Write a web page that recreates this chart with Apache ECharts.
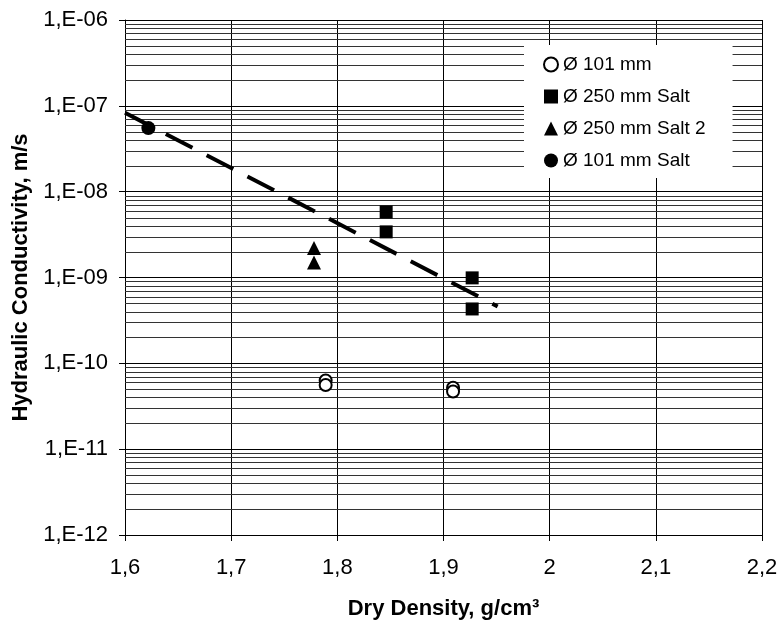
<!DOCTYPE html>
<html>
<head>
<meta charset="utf-8">
<script src="https://cdn.jsdelivr.net/npm/echarts@6/dist/echarts.min.js"></script>
<style>
html,body{margin:0;padding:0;background:#fff;}
#chart{width:781px;height:625px;}
</style>
</head>
<body>
<div id="chart"></div>
<script>
// ---- data ----
const seriesNames = ['Ø 101 mm', 'Ø 250 mm Salt', 'Ø 250 mm Salt 2', 'Ø 101 mm Salt'];
const x101 = [1.789, 1.789, 1.909, 1.909];
const y101 = [6.3e-11, 5.6e-11, 5.2e-11, 4.7e-11];
const x250Salt = [1.846, 1.846, 1.927, 1.927];
const y250Salt = [5.8e-9, 3.4e-9, 9.9e-10, 4.3e-10];
const x250Salt2 = [1.778, 1.778];
const y250Salt2 = [2.2e-9, 1.5e-9];
const x101Salt = [1.622];
const y101Salt = [5.5e-8];
const trendX = [1.6, 1.951];
const trendY = [8.3e-8, 4.6e-10];
const xTicks = [1.6, 1.7, 1.8, 1.9, 2.0, 2.1, 2.2];
const yDecades = [-12, -11, -10, -9, -8, -7, -6];

const pairs = (xs, ys) => xs.map((x, i) => [x, ys[i]]);
const FONT = '"Liberation Sans", Arial, sans-serif';

// minor (2..9) log grid values
const minorVals = [];
for (let k = 0; k < yDecades.length - 1; k++) {
  for (let m = 2; m <= 9; m++) minorVals.push(m * Math.pow(10, yDecades[k]));
}

const chart = echarts.init(document.getElementById('chart'));
chart.setOption({
  animation: false,
  backgroundColor: '#fff',
  grid: { left: 125, top: 20, right: 19, bottom: 89 },
  legend: {
    data: seriesNames,
    orient: 'vertical',
    left: 524, top: 45,
    backgroundColor: '#fff',
    padding: [10, 27, 8, 19],
    itemGap: 13,
    itemWidth: 14, itemHeight: 14,
    textStyle: { fontFamily: FONT, fontSize: 19, color: '#000' }
  },
  xAxis: {
    type: 'value', min: 1.6, max: 2.2, interval: 0.1,
    name: 'Dry Density, g/cm³', nameLocation: 'middle', nameGap: 63,
    nameTextStyle: { fontFamily: FONT, fontSize: 22, fontWeight: 'bold', color: '#000' },
    axisLine: { lineStyle: { color: '#000', width: 1 } },
    axisTick: { show: true, length: 6, lineStyle: { color: '#000' } },
    axisLabel: {
      fontFamily: FONT, fontSize: 22, color: '#000', margin: 22,
      formatter: v => String(Math.round(v * 10) / 10).replace('.', ',')
    },
    splitLine: { show: true, lineStyle: { color: '#000', width: 1 } }
  },
  yAxis: {
    type: 'log', logBase: 10, min: 1e-12, max: 1e-6,
    name: 'Hydraulic Conductivity, m/s', nameLocation: 'middle', nameGap: 93,
    nameTextStyle: { fontFamily: FONT, fontSize: 22, fontWeight: 'bold', color: '#000' },
    axisLine: { show: true, lineStyle: { color: '#000', width: 1 } },
    axisTick: { show: true, length: 6, lineStyle: { color: '#000' } },
    axisLabel: {
      fontFamily: FONT, fontSize: 22, color: '#000', margin: 17,
      formatter: v => {
        const e = Math.round(Math.log10(v));
        const a = Math.abs(e);
        return '1,E' + (e < 0 ? '-' : '+') + (a < 10 ? '0' + a : a);
      }
    },
    splitLine: { show: true, lineStyle: { color: '#000', width: 1 } },
    minorTick: { show: false },
    minorSplitLine: { show: false }
  },
  series: [
    {
      name: 'minorGrid', type: 'custom', silent: true, z: 1,
      data: minorVals.map(v => [xTicks[0], v]),
      encode: { x: 0, y: 1 },
      clip: false,
      renderItem: (params, api) => {
        const pt = api.coord([api.value(0), api.value(1)]);
        const cs = params.coordSys;
        const y = Math.round(pt[1]) + 0.5;
        return {
          type: 'line',
          shape: { x1: cs.x, y1: y, x2: cs.x + cs.width, y2: y },
          style: { stroke: '#333', lineWidth: 1 }
        };
      }
    },
    {
      name: 'trend', type: 'line', data: pairs(trendX, trendY), showSymbol: false, symbol: 'none',
      lineStyle: { color: '#000', width: 4, type: [30, 16] }, z: 3
    },
    {
      name: seriesNames[0], type: 'scatter', data: pairs(x101, y101),
      symbol: 'circle', symbolSize: 12,
      itemStyle: { color: '#fff', borderColor: '#000', borderWidth: 2, opacity: 1 }, z: 5
    },
    {
      name: seriesNames[1], type: 'scatter', data: pairs(x250Salt, y250Salt),
      symbol: 'rect', symbolSize: 13,
      itemStyle: { color: '#000', opacity: 1 }, z: 5
    },
    {
      name: seriesNames[2], type: 'scatter', data: pairs(x250Salt2, y250Salt2),
      symbol: 'triangle', symbolSize: 14,
      itemStyle: { color: '#000', opacity: 1 }, z: 5
    },
    {
      name: seriesNames[3], type: 'scatter', data: pairs(x101Salt, y101Salt),
      symbol: 'circle', symbolSize: 14,
      itemStyle: { color: '#000', opacity: 1 }, z: 5
    }
  ]
});
</script>
</body>
</html>
